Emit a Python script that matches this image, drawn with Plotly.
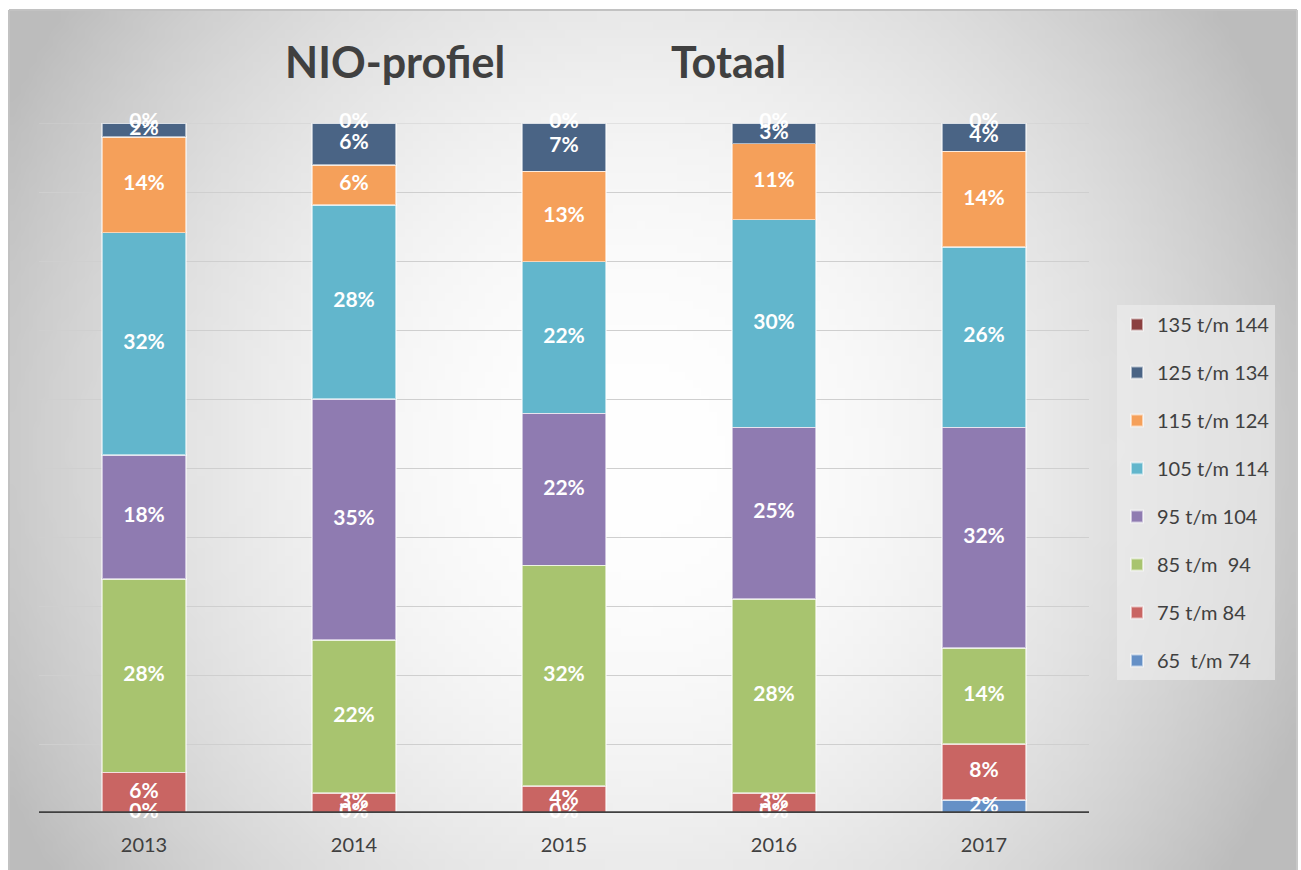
import base64
import struct
import zlib

import numpy as np
import plotly.graph_objects as go

# ---------------- data ----------------
years = ["2013", "2014", "2015", "2016", "2017"]

series_names = [
    "65  t/m 74",
    "75 t/m 84",
    "85 t/m  94",
    "95 t/m 104",
    "105 t/m 114",
    "115 t/m 124",
    "125 t/m 134",
    "135 t/m 144",
]

v_65_74 = [0.0, 0.0, 0.0, 0.0, 1.9]
v_75_84 = [5.9, 2.9, 3.9, 2.9, 8.1]
v_85_94 = [28.0, 22.2, 32.0, 28.1, 13.9]
v_95_104 = [18.0, 34.9, 22.0, 24.9, 32.0]
v_105_114 = [32.2, 28.1, 22.0, 30.1, 26.1]
v_115_124 = [13.9, 5.8, 13.1, 11.0, 13.9]
v_125_134 = [2.0, 6.1, 7.0, 3.0, 4.1]
v_135_144 = [0.0, 0.0, 0.0, 0.0, 0.0]

series_values = [v_65_74, v_75_84, v_85_94, v_95_104,
                 v_105_114, v_115_124, v_125_134, v_135_144]

colors = ["#6590c6", "#c96563", "#a8c46f", "#8f7bb1",
          "#62b6cc", "#f5a05a", "#4a6485", "#8b4040"]

# ---------------- background gradient image ----------------
W, H = 1301, 870
L, R, T, B = 39, 1089, 123, 813          # plot area in px
FX0, FX1, FY0, FY1 = 9, 1297, 10, 870     # gray frame in px


def make_png(w, h, rgb):
    raw = b"".join(b"\x00" + rgb[i].tobytes() for i in range(h))

    def chunk(tag, data):
        c = struct.pack(">I", len(data)) + tag + data
        return c + struct.pack(">I", zlib.crc32(tag + data) & 0xFFFFFFFF)

    return (b"\x89PNG\r\n\x1a\n"
            + chunk(b"IHDR", struct.pack(">IIBBBBB", w, h, 8, 2, 0, 0, 0))
            + chunk(b"IDAT", zlib.compress(raw, 9))
            + chunk(b"IEND", b""))


gw, gh = 161, 108
xs = np.linspace(FX0, FX1, gw)
ys = np.linspace(FY0, FY1, gh)
X, Y = np.meshgrid(xs, ys)
d2 = ((X - 640) / 650.0) ** 2 + ((Y - 450) / 700.0) ** 2
val = np.clip(255 - 55 * d2, 188, 255).astype(np.uint8)
rgb = np.stack([val, val, val], axis=-1)
png_uri = "data:image/png;base64," + base64.b64encode(make_png(gw, gh, rgb)).decode()


def px_x(p):
    return (p - L) / (R - L)


def px_y(p):
    return (B - p) / (B - T)


# ---------------- figure ----------------
fig = go.Figure()

n = len(series_names)
for k, (name, vals, col) in enumerate(zip(series_names, series_values, colors)):
    fig.add_trace(go.Bar(
        x=years, y=vals, name=name,
        marker=dict(color=col, line=dict(color="rgba(255,255,255,0.55)", width=1.5)),
        width=0.4,
        legendgroup=name,
        legendrank=100 * (n - k),
        hoverinfo="skip",
    ))

# data labels at segment centres
lab_x, lab_y, lab_t = [], [], []
base = [0.0] * len(years)
for vals in series_values:
    for i, v in enumerate(vals):
        lab_x.append(years[i])
        lab_y.append(base[i] + v / 2.0)
        lab_t.append(f"{round(v):d}%")
        base[i] += v

fig.add_trace(go.Scatter(
    x=lab_x, y=lab_y, text=lab_t, mode="text",
    textfont=dict(family="Lato", size=21, color="white", weight="bold"),
    showlegend=False, hoverinfo="skip", cliponaxis=False,
))

fig.update_layout(
    width=W, height=H,
    margin=dict(l=L, r=W - R, t=T, b=H - B, pad=0),
    paper_bgcolor="white",
    plot_bgcolor="rgba(0,0,0,0)",
    barmode="stack",
    bargap=0.6,
    font=dict(family="Lato", color="#404040"),
    showlegend=True,
    legend=dict(
        x=px_x(1117), y=px_y(305), xanchor="left", yanchor="top",
        traceorder="grouped", tracegroupgap=19,
        bgcolor="rgba(238,238,238,0.6)",
        font=dict(family="Lato", size=20, color="#404040"),
        itemsizing="constant",
    ),
    xaxis=dict(
        type="category", showgrid=False, zeroline=False,
        showline=False, ticks="",
        tickfont=dict(family="Lato", size=20, color="#404040"),
        ticklabelstandoff=18,
    ),
    yaxis=dict(
        range=[0, 100], dtick=10, showticklabels=False,
        showgrid=True, gridcolor="#cfcfcf", gridwidth=1.2,
        zeroline=False, showline=False, ticks="",
    ),
    images=[dict(
        source=png_uri, xref="paper", yref="paper",
        x=px_x(FX0), y=px_y(FY0), sizex=px_x(FX1) - px_x(FX0), sizey=px_y(FY0) - px_y(FY1),
        xanchor="left", yanchor="top", sizing="stretch", layer="below",
    )],
    shapes=[
        dict(type="line", xref="paper", yref="paper",
             x0=px_x(FX0), x1=px_x(FX1), y0=px_y(FY0), y1=px_y(FY0),
             line=dict(color="#c2c2c2", width=2)),
        dict(type="line", xref="paper", yref="paper",
             x0=px_x(FX0), x1=px_x(FX0), y0=px_y(FY0), y1=px_y(FY1),
             line=dict(color="#c2c2c2", width=2)),
        dict(type="line", xref="paper", yref="paper",
             x0=px_x(FX1), x1=px_x(FX1), y0=px_y(FY0), y1=px_y(FY1),
             line=dict(color="#c8c8c8", width=2)),
        dict(type="line", xref="paper", yref="y",
             x0=0, x1=1, y0=100, y1=100, layer="below",
             line=dict(color="#cfcfcf", width=1.2)),
        dict(type="line", xref="paper", yref="y",
             x0=0, x1=1, y0=0, y1=0, layer="above",
             line=dict(color="#404040", width=3.5)),
    ],
    annotations=[
        dict(text="NIO-profiel", xref="paper", yref="paper",
             x=px_x(395), y=px_y(62), xanchor="center", yanchor="middle",
             showarrow=False,
             font=dict(family="Lato", size=43, color="#404040", weight="bold")),
        dict(text="Totaal", xref="paper", yref="paper",
             x=px_x(728), y=px_y(62), xanchor="center", yanchor="middle",
             showarrow=False,
             font=dict(family="Lato", size=43, color="#404040", weight="bold")),
    ],
)

fig.write_html("out.html", config={"displayModeBar": False},
               post_script="document.body.style.margin='0';")
